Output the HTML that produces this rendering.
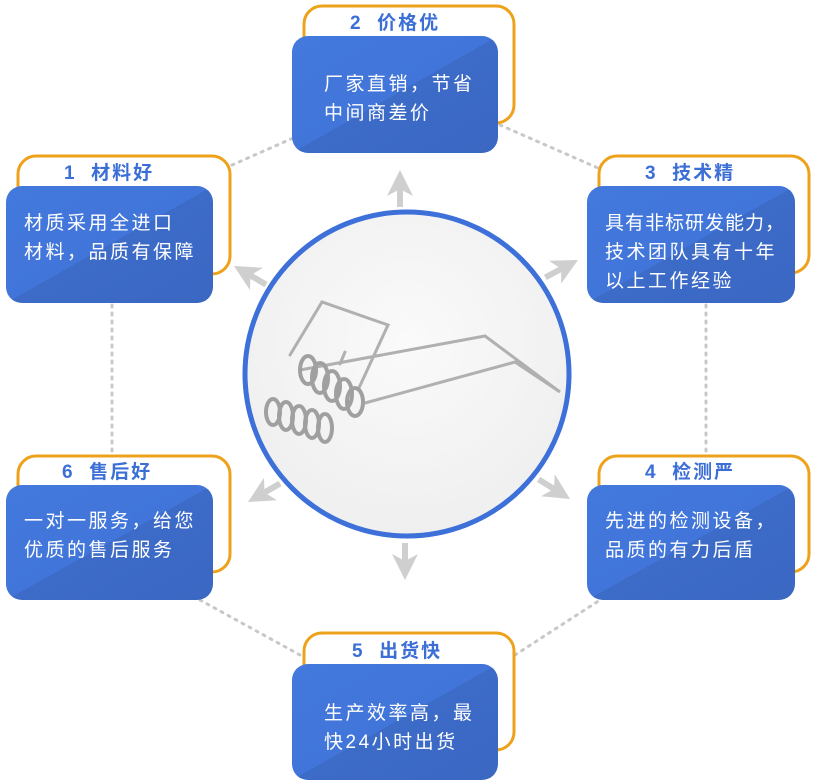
<!DOCTYPE html>
<html><head><meta charset="utf-8"><style>
html,body{margin:0;padding:0;background:#fff;}
svg{display:block;font-family:"Liberation Sans","Noto Sans CJK SC",sans-serif;}
.t{font-size:19px;fill:#fff;letter-spacing:2.5px;}
.h{font-size:19px;font-weight:bold;fill:#3c6fd6;letter-spacing:2px;}
</style></head><body>
<svg width="817" height="784" viewBox="0 0 817 784" xmlns="http://www.w3.org/2000/svg">
<defs>
<linearGradient id="bg" x1="0" y1="0" x2="1" y2="1">
<stop offset="0" stop-color="#4378dc"/><stop offset="0.5" stop-color="#4175d9"/><stop offset="0.5" stop-color="#3c6bc8"/><stop offset="1" stop-color="#3a67c2"/>
</linearGradient>
<radialGradient id="cg" cx="0.5" cy="0.4" r="0.6"><stop offset="0" stop-color="#fafafa"/><stop offset="1" stop-color="#efefef"/></radialGradient>
<g id="arr"><path d="M0,0 L-13,26 L0,19 L13,26 Z" fill="#cfcfcf"/><rect x="-3" y="17" width="6" height="20" fill="#cfcfcf"/></g>
</defs>
<g stroke="#c8c8c8" stroke-width="3" stroke-dasharray="2,6" fill="none" stroke-linecap="round">
<line x1="232" y1="165" x2="300" y2="135"/>
<line x1="500" y1="125" x2="598" y2="168"/>
<line x1="112" y1="305" x2="112" y2="455"/>
<line x1="706" y1="305" x2="706" y2="455"/>
<line x1="200" y1="600" x2="300" y2="655"/>
<line x1="515" y1="655" x2="600" y2="600"/>
</g>
<circle cx="407" cy="374" r="162" fill="url(#cg)" stroke="#3d70d8" stroke-width="5"/>
<g fill="none" stroke="#b0b0b0" stroke-width="3" stroke-linecap="round">
<path d="M290,355 L322,302 L388,325 L358,390"/>
<path d="M300,370 L485,336 L560,392 L515,362 L365,403"/>
<path d="M340,364 L345,352"/>
</g>
<g fill="none" stroke="#a0a0a0" stroke-width="4">
<ellipse cx="273" cy="412" rx="7" ry="13"/><ellipse cx="286" cy="416" rx="7" ry="14"/><ellipse cx="299" cy="420" rx="7" ry="14"/><ellipse cx="312" cy="424" rx="7" ry="14"/><ellipse cx="325" cy="428" rx="7" ry="14"/>
<ellipse cx="308" cy="370" rx="8" ry="14"/><ellipse cx="320" cy="378" rx="8" ry="15"/><ellipse cx="332" cy="386" rx="8" ry="15"/><ellipse cx="344" cy="394" rx="8" ry="15"/><ellipse cx="355" cy="402" rx="8" ry="14"/>
</g>
<use href="#arr" transform="translate(400,170)"/>
<use href="#arr" transform="translate(405,580) rotate(180)"/>
<use href="#arr" transform="translate(234,266) rotate(-60)"/>
<use href="#arr" transform="translate(578,260) rotate(62)"/>
<use href="#arr" transform="translate(248,502) rotate(-120)"/>
<use href="#arr" transform="translate(570,499) rotate(122)"/>
<g fill="#fff" stroke="#eea21b" stroke-width="3">
<rect x="304" y="6" width="210" height="117" rx="18"/>
<rect x="18" y="156" width="212" height="118" rx="18"/>
<rect x="599" y="156" width="210" height="117" rx="18"/>
<rect x="18" y="456" width="212" height="116" rx="18"/>
<rect x="599" y="456" width="210" height="116" rx="18"/>
<rect x="304" y="633" width="210" height="117" rx="18"/>
</g>
<g fill="url(#bg)">
<rect x="292" y="36" width="206" height="117" rx="16"/>
<rect x="6" y="186" width="207" height="117" rx="16"/>
<rect x="587" y="186" width="208" height="117" rx="16"/>
<rect x="6" y="485" width="207" height="115" rx="16"/>
<rect x="587" y="485" width="208" height="115" rx="16"/>
<rect x="292" y="664" width="206" height="116" rx="16"/>
</g>
<text class="h" x="350" y="29">2&#160;&#160;价格优</text>
<text class="h" x="64" y="179">1&#160;&#160;材料好</text>
<text class="h" x="645" y="179">3&#160;&#160;技术精</text>
<text class="h" x="62" y="478">6&#160;&#160;售后好</text>
<text class="h" x="645" y="478">4&#160;&#160;检测严</text>
<text class="h" x="352" y="657">5&#160;&#160;出货快</text>
<text class="t" x="324" y="90">厂家直销，节省</text>
<text class="t" x="324" y="119">中间商差价</text>
<text class="t" x="24" y="229">材质采用全进口</text>
<text class="t" x="24" y="258">材料，品质有保障</text>
<text class="t" x="605" y="229" style="letter-spacing:1px">具有非标研发能力，</text>
<text class="t" x="605" y="258">技术团队具有十年</text>
<text class="t" x="605" y="287">以上工作经验</text>
<text class="t" x="24" y="527">一对一服务，给您</text>
<text class="t" x="24" y="556">优质的售后服务</text>
<text class="t" x="605" y="527">先进的检测设备，</text>
<text class="t" x="605" y="556">品质的有力后盾</text>
<text class="t" x="324" y="719">生产效率高，最</text>
<text class="t" x="324" y="748">快24小时出货</text>
</svg>
</body></html>
